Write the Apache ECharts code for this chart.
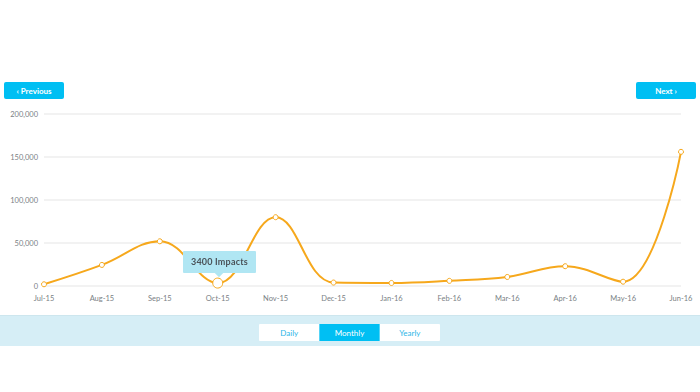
<!DOCTYPE html>
<html><head><meta charset="utf-8">
<script src="https://cdn.jsdelivr.net/npm/echarts@6/dist/echarts.min.js"></script>
<style>html,body{margin:0;padding:0;background:#fff}#c{width:700px;height:392px}</style>
</head><body><div id="c"></div>
<script>
const categories = ['Jul-15','Aug-15','Sep-15','Oct-15','Nov-15','Dec-15','Jan-16','Feb-16','Mar-16','Apr-16','May-16','Jun-16'];
const impacts = [2000, 24500, 52000, 3400, 80000, 4000, 3500, 6000, 10500, 23000, 5000, 156000];
const yTicks = [0, 50000, 100000, 150000, 200000];
const highlightIndex = 3;
const navLabels = ['‹ Previous', 'Next ›'];
const periodLabels = ['Daily', 'Monthly', 'Yearly'];
const activePeriod = 'Monthly';

const FONT = 'Lato, "Open Sans", sans-serif';
const CYAN = '#00bff3';
const chart = echarts.init(document.getElementById('c'), null, {renderer: 'svg'});

const graphics = [
  {type:'rect', shape:{x:0,y:315,width:700,height:31}, style:{fill:'#d6eef6'}},
  {type:'rect', shape:{x:0,y:315,width:700,height:1}, style:{fill:'#cde6ee'}},
  {type:'rect', shape:{x:4,y:82,width:60,height:17,r:2}, style:{fill:CYAN}},
  {type:'text', x:34, y:90.5, style:{text:navLabels[0], fill:'#fff', font:'bold 8px '+FONT, align:'center', verticalAlign:'middle'}},
  {type:'rect', shape:{x:636,y:82,width:60,height:17,r:2}, style:{fill:CYAN}},
  {type:'text', x:666, y:90.5, style:{text:navLabels[1], fill:'#fff', font:'bold 8px '+FONT, align:'center', verticalAlign:'middle'}},
  {type:'rect', shape:{x:259,y:324,width:181,height:17,r:1}, style:{fill:'#fff'}}
];
periodLabels.forEach((p, i) => {
  const x0 = 259 + i * 60.33;
  if (p === activePeriod) graphics.push({type:'rect', shape:{x:x0,y:324,width:60.33,height:17}, style:{fill:CYAN}});
  graphics.push({type:'text', x:x0+30.2, y:332.8, style:{text:p, fill: p===activePeriod?'#fff':'#2bb6e8', font:'8px '+FONT, align:'center', verticalAlign:'middle'}});
});

chart.setOption({
  animation: false,
  grid: {left:44, right:19, top:114, bottom:106, containLabel:false},
  tooltip: {
    trigger:'item', triggerOn:'none', alwaysShowContent:true,
    position:'top',
    formatter: p => p.value + ' Impacts',
    backgroundColor:'#b0e6f3', borderColor:'#b0e6f3', borderWidth:0, borderRadius:1,
    padding:[4,8],
    textStyle:{color:'#4a5258', fontSize:9, fontWeight:'bold', fontFamily:FONT},
    extraCssText:'box-shadow:none;margin-top:3px;margin-left:2px;letter-spacing:0.2px;'
  },
  xAxis: {
    type:'category', data:categories, boundaryGap:false,
    axisLine:{show:false}, axisTick:{show:false},
    axisLabel:{color:'#7a7f85', fontSize:7.5, fontFamily:FONT, margin:8}
  },
  yAxis: {
    type:'value', min:yTicks[0], max:yTicks[yTicks.length-1], interval:yTicks[1]-yTicks[0],
    axisLine:{show:false}, axisTick:{show:false},
    axisLabel:{color:'#7a7f85', fontSize:7.5, fontFamily:FONT, margin:6,
      formatter: v => v.toLocaleString('en-US')},
    splitLine:{lineStyle:{color:'#eeeeee', width:1.5}}
  },
  series: [{
    type:'line', smooth:0.4,
    data: impacts.map((v, i) => i === highlightIndex ? {value:v, symbolSize:10} : v),
    symbol:'circle', symbolSize:5,
    lineStyle:{color:'#f6a81c', width:2},
    itemStyle:{color:'#fff', borderColor:'#f6a81c', borderWidth:1},
    emphasis:{disabled:true}
  }],
  graphic: graphics
});
chart.dispatchAction({type:'showTip', seriesIndex:0, dataIndex:highlightIndex});
</script></body></html>
